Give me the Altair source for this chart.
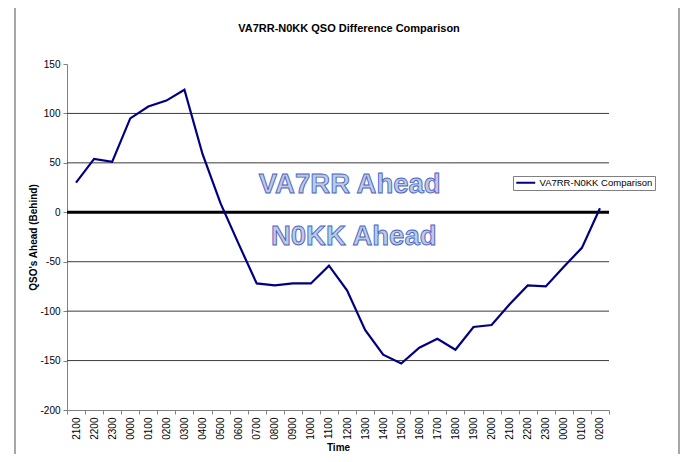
import altair as alt
import pandas as pd

# ---- data ----
time_labels = ["2100", "2200", "2300", "0000", "0100", "0200", "0300", "0400", "0500", "0600",
               "0700", "0800", "0900", "1000", "1100", "1200", "1300", "1400", "1500", "1600",
               "1700", "1800", "1900", "2000", "2100", "2200", "2300", "0000", "0100", "0200"]
diff_values = [30, 54, 51, 95, 107, 113, 124, 59, 9, -32,
               -72, -74, -72, -72, -54, -79, -119, -144, -153, -137,
               -128, -139, -116, -114, -93, -74, -75, -55, -36, 4]
series_name = "VA7RR-N0KK Comparison"
y_ticks = [-200, -150, -100, -50, 0, 50, 100, 150]
grid_values = [100, 50, -50, -100, -150]
zero_value = [0]
note_texts = ["VA7RR Ahead", "N0KK Ahead"]
note_x = [15.65, 15.87]
note_y = [19.5, -33]

FONT = "Liberation Sans, Arial, sans-serif"
NOTE_FONT = "'Liberation Sans Narrow', 'Arial Narrow', 'Liberation Sans', Arial, sans-serif"

n = len(time_labels)
df = pd.DataFrame({
    "pos": [i + 0.5 for i in range(n)],
    "time": time_labels,
    "diff": diff_values,
    "series": [series_name] * n,
})
grid_df = pd.DataFrame({"g": grid_values})
zero_df = pd.DataFrame({"z": zero_value})
note_df = pd.DataFrame({"nx": note_x, "ny": note_y, "txt": note_texts})

xs = alt.Scale(domain=[0, n], nice=False, zero=False)
ys = alt.Scale(domain=[-200, 150], nice=False, zero=False)

label_arr = "[" + ",".join("'" + t + "'" for t in time_labels) + "]"

x_axis = alt.Axis(
    values=list(range(n + 1)),
    labelExpr=f"datum.value < {n} ? {label_arr}[datum.value] : ''",
    labelAngle=270, labelOffset=9, labelFontSize=10, labelFont=FONT, labelColor="#000",
    labelPadding=3, labelOverlap=False, labelBound=False, labelFlush=False,
    tickSize=4, tickColor="#808080", domainColor="#808080", grid=False,
    title="Time", titleFont=FONT, titleFontSize=10, titleFontWeight="bold",
    titleColor="#000", titlePadding=3,
)
y_axis = alt.Axis(
    values=y_ticks, labelExpr="datum.value + ''",
    labelFontSize=10, labelFont=FONT, labelColor="#000", labelPadding=3,
    tickSize=4, tickColor="#808080", domainColor="#808080", grid=False,
    title="QSO's Ahead (Behind)", titleFont=FONT, titleFontSize=10, titleFontWeight="bold",
    titleColor="#000", titlePadding=1,
)

frame = alt.Chart(alt.Data(values=[{}])).mark_rect(
    fill="white", fillOpacity=0, stroke="#8a8a8a", strokeWidth=1.5
).encode(x=alt.value(-52), x2=alt.value(612), y=alt.value(-57), y2=alt.value(430))

grid = alt.Chart(grid_df).mark_rule(color="#3c3c3c", strokeWidth=1).encode(
    y=alt.Y("g:Q", scale=ys, axis=y_axis)
)
zero = alt.Chart(zero_df).mark_rule(color="#000", strokeWidth=3).encode(
    y=alt.Y("z:Q", scale=ys, axis=y_axis)
)
notes = alt.Chart(note_df).mark_text(
    font=NOTE_FONT, fontSize=27.5, fontWeight="bold", align="center", baseline="alphabetic",
    fill="#bccbe4", stroke="#4a5fc4", strokeWidth=0.9
).encode(x=alt.X("nx:Q", scale=xs, axis=x_axis), y=alt.Y("ny:Q", scale=ys, axis=y_axis),
         text="txt:N")

line = alt.Chart(df).mark_line(strokeWidth=2.2).encode(
    x=alt.X("pos:Q", scale=xs, axis=x_axis),
    y=alt.Y("diff:Q", scale=ys, axis=y_axis),
    color=alt.Color(
        "series:N",
        scale=alt.Scale(domain=[series_name], range=["#000080"]),
        legend=alt.Legend(
            title=None, orient="none", legendX=446, legendY=112,
            symbolType="M-3,0H3", symbolSize=40, symbolStrokeWidth=2, symbolOffset=6,
            labelOffset=9, labelFontSize=9.5, labelFont=FONT, labelColor="#000",
            strokeColor="#808080", fillColor="white", padding=2,
        ),
    ),
)

chart = alt.layer(frame, grid, zero, notes, line).properties(
    width=542, height=346,
    background="white",
    autosize=alt.AutoSizeParams(type="none"),
    padding={"left": 59, "top": 56, "right": 72, "bottom": 44},
    title=alt.TitleParams(
        text="VA7RR-N0KK QSO Difference Comparison", font=FONT, fontSize=11,
        fontWeight="bold", color="#000", anchor="middle", frame="group", dx=11, offset=-28,
    ),
).configure_view(stroke=None)

chart.save("out.html", embed_options={"renderer": "svg", "actions": False})
